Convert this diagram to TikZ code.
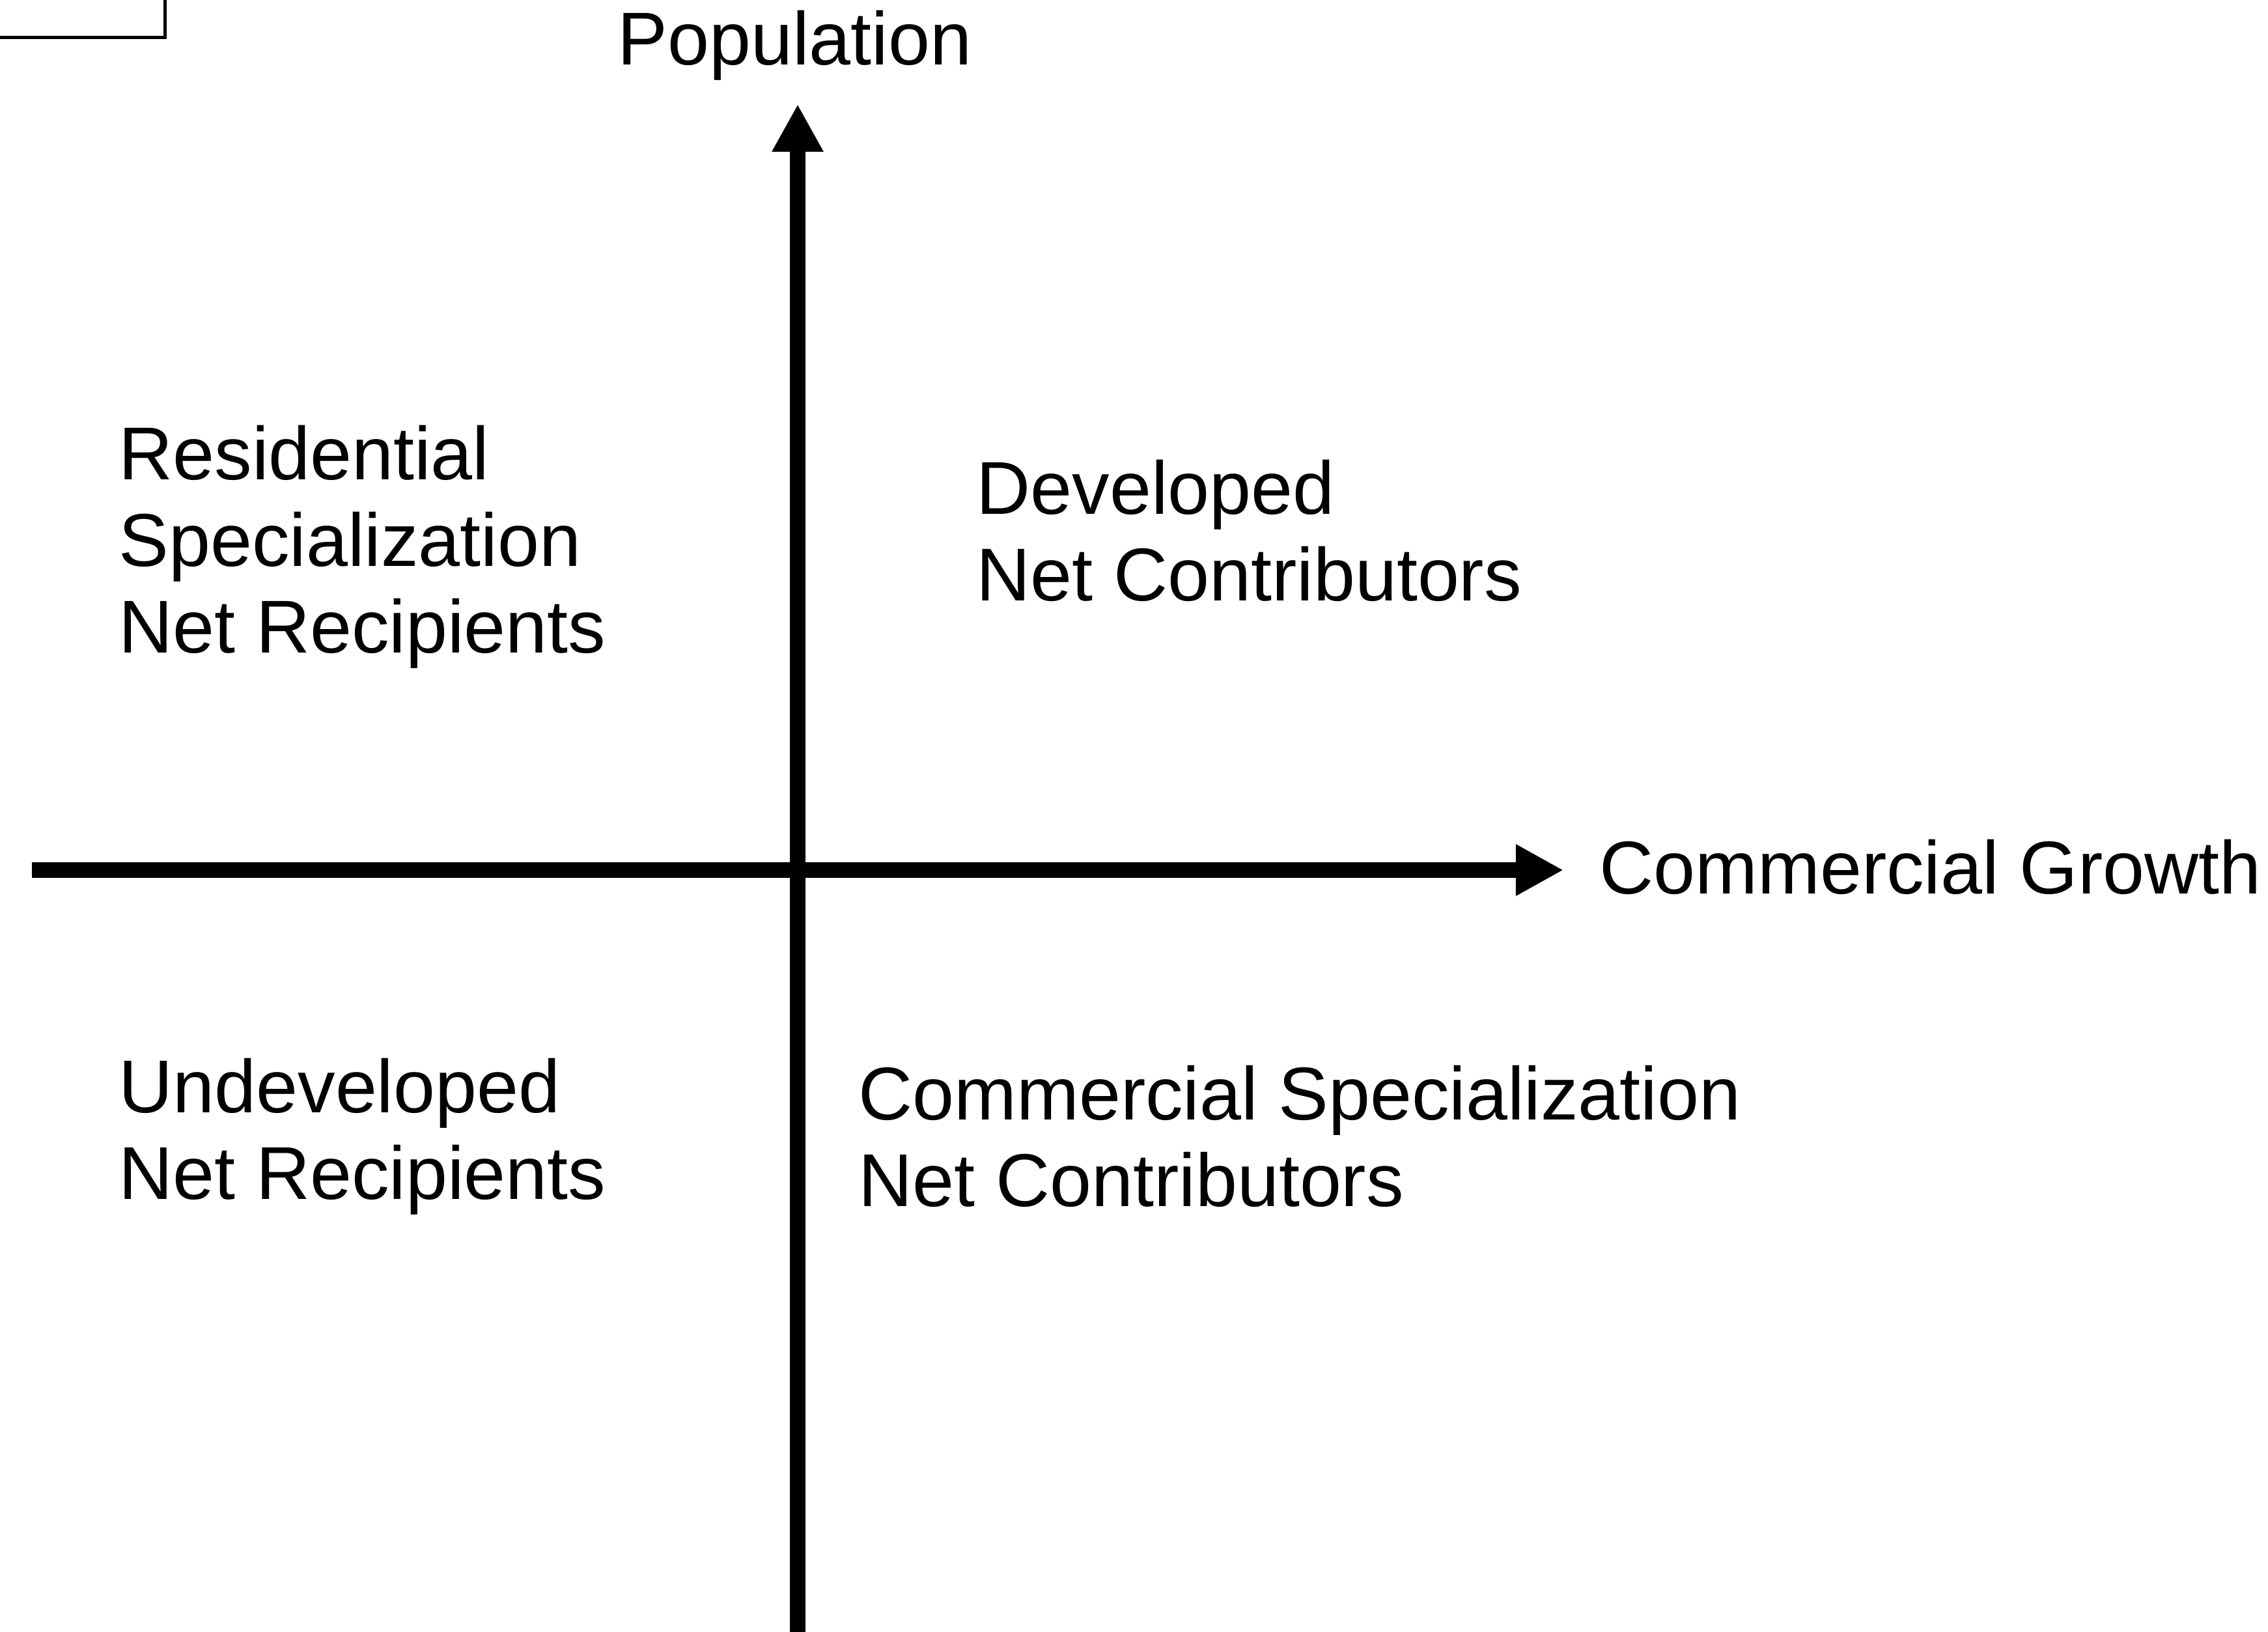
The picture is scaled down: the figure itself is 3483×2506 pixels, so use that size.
\documentclass[tikz,border=0pt]{standalone}
\usepackage{fontspec}
\setmainfont{Liberation Sans}
\usetikzlibrary{arrows.meta,positioning}

\begin{document}
\begin{tikzpicture}[
  x=0.01cm, y=-0.01cm,
  axis/.style={line width=0.24cm, -{Triangle[length=0.73cm, width=0.74cm]}},
  label/.style={inner sep=0pt, anchor=base west, align=left,
                font=\fontsize{32.7}{37.8}\selectfont},
]
\useasboundingbox (0,0) rectangle (3483,2506);

% corner of a frame
\draw[line width=0.05cm] (-50,-50) rectangle (253,57.5);

% axes
\coordinate (origin) at (1225,1336);
\coordinate (xstart) at (49,1336);
\coordinate (xend) at (2401,1336);
\coordinate (ystart) at (1225,2530);
\coordinate (yend) at (1225,160);
\draw[axis] (xstart) -- (xend);
\draw[axis] (ystart) -- (yend);

% axis titles (base = last line)
\node[label] (ytitle) at (948,100) {Population};
\node[label] (xtitle) at (2456,1372) {Commercial Growth};

% quadrants
\node[label] (q2) at (182,1002) {Residential\\Specialization\\Net Recipients};
\node[label] (q1) at (1499,922) {Developed\\Net Contributors};
\node[label] (q3) at (182,1841) {Undeveloped\\Net Recipients};
\node[label] (q4) at (1318,1852) {Commercial Specialization\\Net Contributors};

\end{tikzpicture}
\end{document}
